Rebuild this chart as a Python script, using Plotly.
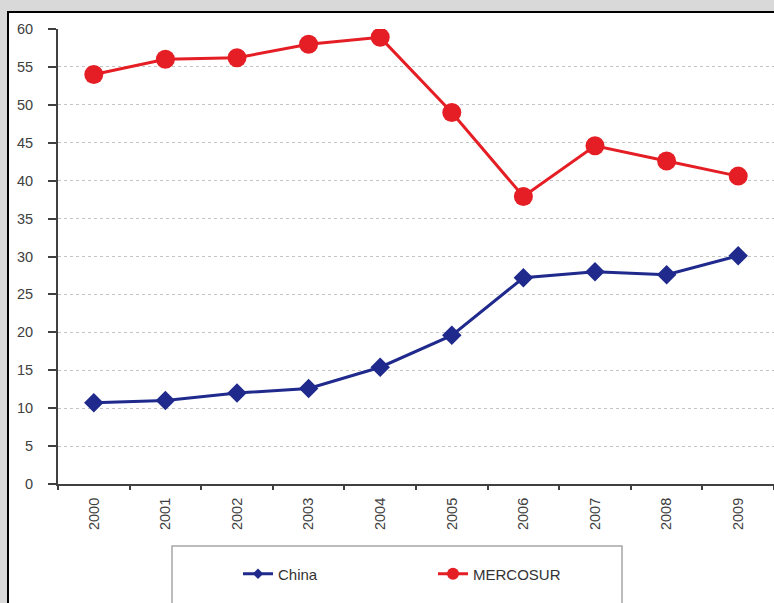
import plotly.graph_objects as go

years = ["2000", "2001", "2002", "2003", "2004", "2005", "2006", "2007", "2008", "2009"]
china = [10.7, 11.0, 12.0, 12.6, 15.4, 19.6, 27.2, 28.0, 27.6, 30.1]
mercosur = [54.0, 56.0, 56.2, 58.0, 58.9, 49.0, 37.9, 44.6, 42.6, 40.6]
y_ticks = [0, 5, 10, 15, 20, 25, 30, 35, 40, 45, 50, 55, 60]

BLUE = "#1f2a8c"
RED = "#e41e24"
AXIS = "#404040"
FONT = "Liberation Sans, Arial, sans-serif"

W, H = 774, 603
L, T, B, R = 58, 29, 119, 0
pw, ph = W - L - R, H - T - B


def px_x(px):
    return (px - L) / pw


def px_y(py):
    return (H - B - py) / ph


fig = go.Figure()
fig.add_trace(go.Scatter(
    x=years, y=china, name="China", mode="lines+markers", showlegend=False,
    line=dict(color=BLUE, width=3),
    marker=dict(symbol="diamond", size=15, color=BLUE),
))
fig.add_trace(go.Scatter(
    x=years, y=mercosur, name="MERCOSUR", mode="lines+markers", showlegend=False,
    line=dict(color=RED, width=3),
    marker=dict(symbol="circle", size=19, color=RED),
))
# legend entries with smaller sample markers
fig.add_trace(go.Scatter(
    x=[None], y=[None], name="China", mode="lines+markers",
    line=dict(color=BLUE, width=3),
    marker=dict(symbol="diamond", size=8, color=BLUE),
))
fig.add_trace(go.Scatter(
    x=[None], y=[None], name="MERCOSUR", mode="lines+markers",
    line=dict(color=RED, width=3),
    marker=dict(symbol="circle", size=12, color=RED),
))

shapes = [
    # white chart panel with dark frame
    dict(type="rect", xref="paper", yref="paper", layer="below",
         x0=px_x(8), x1=px_x(800), y0=px_y(640), y1=px_y(12),
         fillcolor="white", line=dict(color="black", width=2)),
    # legend frame
    dict(type="rect", xref="paper", yref="paper", layer="below",
         x0=px_x(172), x1=px_x(622), y0=px_y(620), y1=px_y(546),
         fillcolor="white", line=dict(color="#a6a6a6", width=1.5)),
]

fig.update_layout(
    width=W, height=H,
    margin=dict(l=L, r=R, t=T, b=B, pad=0),
    paper_bgcolor="#d9d9d9",
    plot_bgcolor="rgba(0,0,0,0)",
    font=dict(family=FONT, size=14.5, color=AXIS),
    shapes=shapes,
    showlegend=True,
    legend=dict(
        orientation="h", x=px_x(238), xanchor="left",
        y=px_y(574), yanchor="middle",
        bgcolor="rgba(0,0,0,0)", borderwidth=0,
        font=dict(family=FONT, size=15, color="#333333"),
        entrywidth=150, entrywidthmode="pixels",
    ),
    xaxis=dict(
        type="category", range=[-0.5, 9.5], tickangle=-90, tickson="boundaries",
        ticks="outside", ticklen=4, tickwidth=2, tickcolor=AXIS,
        showline=True, linecolor=AXIS, linewidth=2,
        showgrid=False, zeroline=False, ticklabelstandoff=6,
        tickfont=dict(size=14.5, color=AXIS),
    ),
    yaxis=dict(
        range=[0, 60], tickvals=y_ticks,
        ticks="outside", ticklen=8, tickwidth=2, tickcolor=AXIS,
        showline=True, linecolor=AXIS, linewidth=2,
        showgrid=True, gridcolor="#c4c4c4", griddash="dot", gridwidth=1,
        zeroline=False, ticklabelstandoff=12,
        tickfont=dict(size=14.5, color=AXIS),
    ),
)

fig.write_html("out.html")
